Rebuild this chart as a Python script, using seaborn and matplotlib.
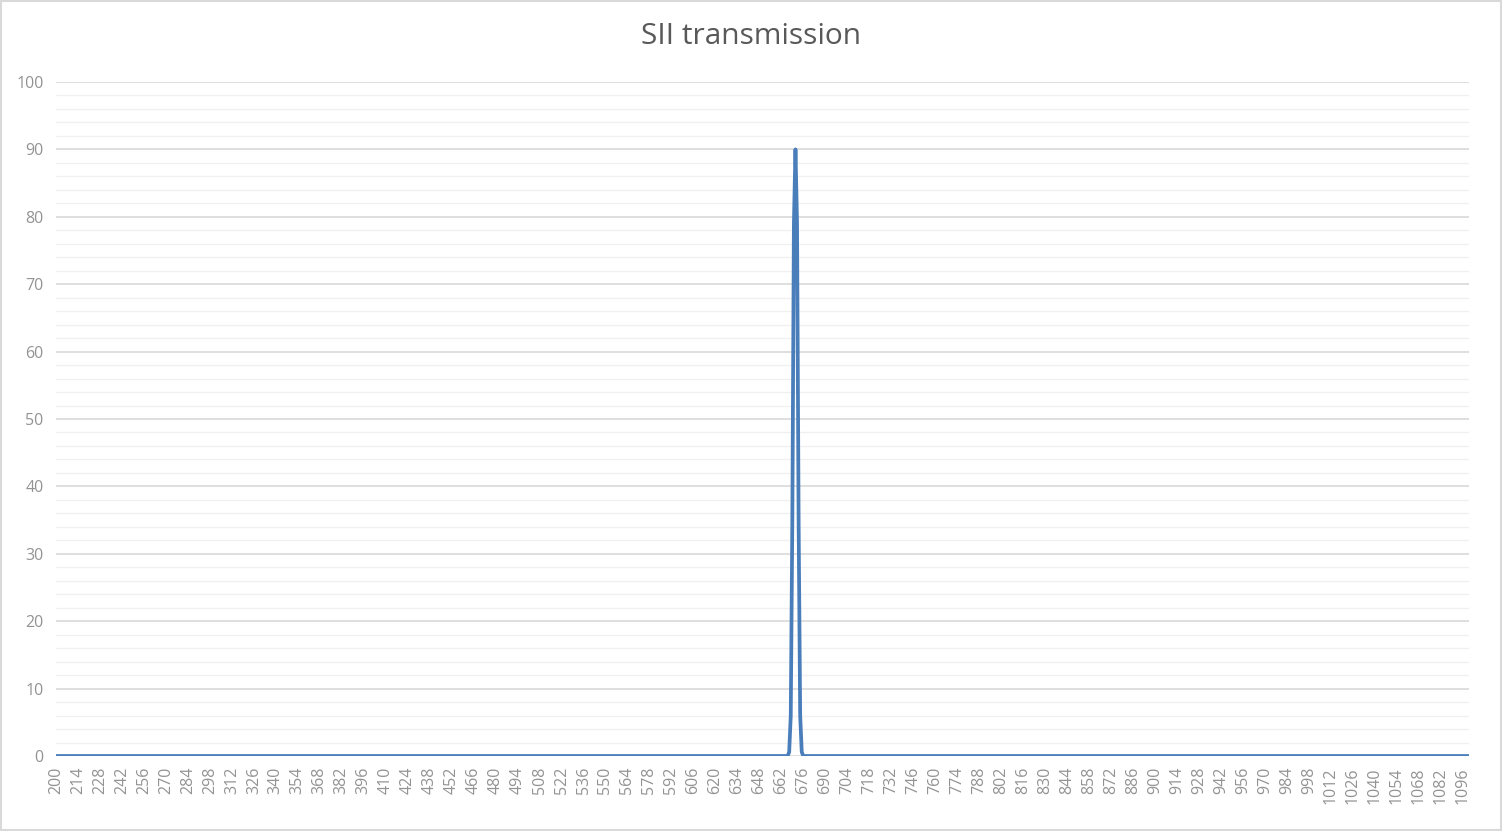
import numpy as np
import pandas as pd
import matplotlib.pyplot as plt
import seaborn as sns
from matplotlib.patches import Rectangle
from matplotlib.ticker import MultipleLocator

# ---- data ----
wavelength_start = 200
wavelength_end = 1100
# the band around the SII line; everything else sits at 0
peak_wavelengths = [666, 667, 668, 669, 670, 671, 672, 673, 674, 675, 676]
peak_values = [0.0, 0.6, 6.0, 35.0, 79.0, 90.0, 79.0, 35.0, 6.0, 0.6, 0.0]
x_tick_labels = list(range(200, 1097, 14))
y_ticks = list(range(0, 101, 10))

wavelengths = np.arange(wavelength_start, wavelength_end + 1)
transmission = pd.Series(0.0, index=wavelengths)
transmission.loc[peak_wavelengths] = peak_values
df = pd.DataFrame({"wavelength": wavelengths, "transmission": transmission.values})

# ---- style ----
sns.set_theme(style="white")
plt.rcParams["font.family"] = ["Open Sans", "DejaVu Sans"]

text_grey = "#939393"
fig = plt.figure(figsize=(15.02, 8.31), dpi=100)
ax = fig.add_axes([56 / 1502, 1 - 756 / 831, (1469 - 56) / 1502, (756 - 82) / 831])

sns.lineplot(data=df, x="wavelength", y="transmission", ax=ax,
             color="#4a7ebb", linewidth=2.7, zorder=3,
             solid_joinstyle="round", solid_capstyle="round")

ax.set_xlim(wavelength_start, wavelength_end)
ax.set_ylim(0, 100)
ax.set_xticks(x_tick_labels)
ax.set_xticklabels([str(v) for v in x_tick_labels], rotation=90)
ax.set_yticks(y_ticks)
ax.yaxis.set_minor_locator(MultipleLocator(2))

ax.grid(which="major", axis="y", color="#d9d9d9", linewidth=1.2, zorder=0)
ax.grid(which="minor", axis="y", color="#f0f0f0", linewidth=1.0, zorder=0)
ax.grid(which="major", axis="x", visible=False)
for s in ax.spines.values():
    s.set_visible(False)

ax.tick_params(axis="both", which="both", length=0, labelsize=11.5,
               labelcolor=text_grey)
ax.tick_params(axis="y", pad=9)
ax.tick_params(axis="x", pad=8)
ax.set_xlabel("")
ax.set_ylabel("")

fig.text(0.5, 1 - 37 / 831, "SII transmission", ha="center", va="center",
         fontsize=21.5, color="#595959")

fig.patches.append(Rectangle((0.0007, 0.0012), 0.9986, 0.9976, transform=fig.transFigure,
                             fill=False, edgecolor="#d9d9d9", linewidth=1.5))

fig.savefig("out.png", dpi=100, facecolor="white")
